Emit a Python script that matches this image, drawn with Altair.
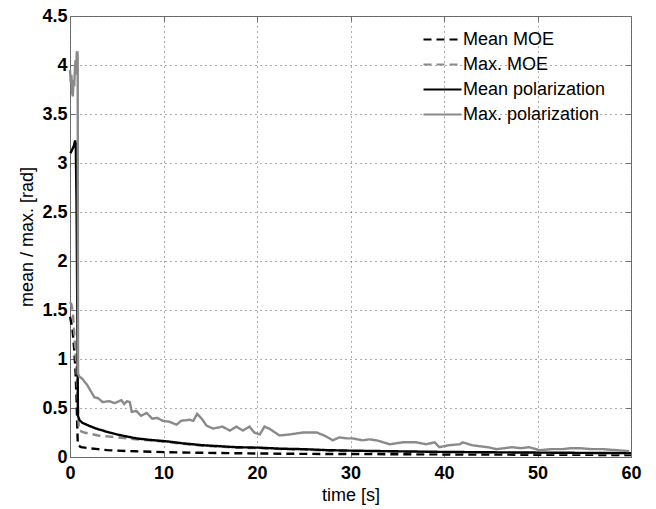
import altair as alt
import pandas as pd

series_names = ["Mean MOE", "Max. MOE", "Mean polarization", "Max. polarization"]

mean_moe_t = [0, 0.25, 0.45, 0.6, 0.7, 0.78, 0.84, 1.2, 2, 3, 4, 5, 7, 10, 14, 20, 25, 30, 40, 50, 60]
mean_moe_v = [1.43, 1.32, 1.1, 0.85, 0.6, 0.3, 0.12, 0.1, 0.09, 0.08, 0.07, 0.065, 0.058, 0.05, 0.043,
              0.036, 0.032, 0.03, 0.026, 0.023, 0.02]

max_moe_t = [0, 0.15, 0.3, 0.5, 0.7, 0.85, 0.95, 1.0, 1.5, 2, 3, 4, 5, 6, 7, 8.5, 10.3, 12, 14.2, 16,
             17.8, 20.3, 22.5, 25, 27.5, 30, 35, 40, 45, 50, 55, 60]
max_moe_v = [1.58, 1.56, 1.48, 1.2, 0.9, 0.5, 0.28, 0.27, 0.25, 0.24, 0.22, 0.21, 0.2, 0.19, 0.18,
             0.17, 0.155, 0.135, 0.115, 0.105, 0.095, 0.09, 0.08, 0.075, 0.065, 0.06, 0.053, 0.047,
             0.043, 0.04, 0.037, 0.035]

mean_pol_t = [0.05, 0.2, 0.4, 0.55, 0.62, 0.65, 0.7, 0.8, 0.85, 1.0, 1.3, 2, 2.8, 4.2, 5.5, 7.1, 8.5,
              10.3, 12, 14.2, 16, 17.8, 20.3, 22.5, 25, 27.5, 30, 35, 40, 45, 50, 55, 60]
mean_pol_v = [3.1, 3.13, 3.17, 3.23, 3.2, 2.95, 2.6, 1.2, 0.42, 0.38, 0.35, 0.32, 0.29, 0.25, 0.22,
              0.19, 0.175, 0.16, 0.14, 0.12, 0.11, 0.1, 0.095, 0.085, 0.08, 0.07, 0.065, 0.058, 0.052,
              0.048, 0.045, 0.042, 0.04]

max_pol_t = [0, 0.08, 0.15, 0.22, 0.3, 0.38, 0.45, 0.52, 0.6, 0.66, 0.72, 0.78, 0.82, 0.86, 1.0, 1.3,
             1.8, 2.3, 2.6, 3.0, 3.5, 4.2, 4.8, 5.5, 5.8, 6.1, 6.4, 6.6, 7.1, 7.6, 8.2, 8.8, 9.3, 9.9,
             10.6, 11.4, 11.9, 12.8, 13.2, 13.6, 14.1, 14.6, 15.3, 16.3, 17.1, 17.8, 18.5, 19.2, 19.7,
             20.3, 20.8, 21.3, 22.4, 23.5, 24.9, 25.6, 26.4, 27.4, 28.1, 28.8, 29.6, 30.2, 31.3, 32.0,
             32.8, 34.2, 35.6, 36.3, 37.0, 38.1, 39.0, 39.5, 40.5, 41.7, 42.0, 43.0, 43.8, 44.7, 45.6,
             46.5, 47.3, 48.2, 49.1, 50.2, 51.5, 52.7, 53.6, 54.5, 55.8, 57.0, 58.4, 59.8]
max_pol_v = [3.95, 3.82, 3.9, 3.72, 3.68, 3.85, 3.78, 3.95, 4.05, 3.9, 4.12, 4.14, 4.1, 0.85, 0.82,
             0.8, 0.74, 0.66, 0.61, 0.6, 0.56, 0.57, 0.55, 0.58, 0.54, 0.57, 0.56, 0.46, 0.47, 0.42,
             0.45, 0.39, 0.4, 0.37, 0.36, 0.33, 0.37, 0.38, 0.37, 0.44, 0.39, 0.32, 0.29, 0.31, 0.27,
             0.31, 0.27, 0.31, 0.25, 0.23, 0.31, 0.29, 0.22, 0.23, 0.25, 0.25, 0.25, 0.21, 0.17, 0.2,
             0.19, 0.19, 0.17, 0.18, 0.17, 0.13, 0.15, 0.15, 0.15, 0.13, 0.15, 0.1, 0.12, 0.13, 0.15,
             0.12, 0.11, 0.1, 0.08, 0.09, 0.1, 0.09, 0.1, 0.07, 0.08, 0.08, 0.09, 0.09, 0.08, 0.08,
             0.07, 0.06]

x_ticks = [0, 10, 20, 30, 40, 50, 60]
y_ticks = [0, 0.5, 1, 1.5, 2, 2.5, 3, 3.5, 4, 4.5]

rows = []
for name, ts, vs in zip(series_names,
                        [mean_moe_t, max_moe_t, mean_pol_t, max_pol_t],
                        [mean_moe_v, max_moe_v, mean_pol_v, max_pol_v]):
    for i, (t, v) in enumerate(zip(ts, vs)):
        rows.append({"series": name, "t": t, "v": v, "i": i})
df = pd.DataFrame(rows)

FONT = "Liberation Sans"
WEIGHT = "bold"
GRID = "#5a5a5a"
BOX = "#6e6e6e"

color_scale = alt.Scale(domain=series_names, range=["#000000", "#8a8a8a", "#000000", "#8a8a8a"])
dash_scale = alt.Scale(domain=series_names, range=[[8, 5], [8, 5], [1, 0], [1, 0]])

legend = alt.Legend(orient="none", legendX=361, legendY=12, title=None,
                    symbolType="M-1.9,0H1.9", symbolSize=400, symbolStrokeWidth=2.2,
                    labelFont=FONT, labelFontSize=18, labelColor="#000000",
                    labelFontWeight="normal",
                    labelOffset=9, rowPadding=4, padding=0, labelLimit=300)

x_main = alt.X("t:Q", scale=alt.Scale(domain=[0, 60], nice=False, zero=False),
               axis=alt.Axis(values=x_ticks, title="time [s]", orient="bottom", offset=-5,
                             tickSize=5, tickColor=BOX, domain=False, grid=True,
                             gridDash=[1, 4], gridColor=GRID, gridOpacity=1,
                             labelFont=FONT, labelFontSize=18, labelColor="#000000",
                             labelFontWeight=WEIGHT,
                             labelPadding=7, labelFlush=False,
                             titleFont=FONT, titleFontSize=18, titleFontWeight="normal",
                             titleColor="#000000", titlePadding=4))
y_main = alt.Y("v:Q", scale=alt.Scale(domain=[0, 4.5], nice=False),
               axis=alt.Axis(values=y_ticks, title="mean / max. [rad]", orient="left", offset=-5,
                             tickSize=5, tickColor=BOX, domain=False, grid=True,
                             gridDash=[1, 4], gridColor=GRID, gridOpacity=1,
                             labelFont=FONT, labelFontSize=18, labelColor="#000000",
                             labelFontWeight=WEIGHT,
                             labelPadding=3, labelFlush=False, labelExpr="'' + datum.value",
                             titleFont=FONT, titleFontSize=18, titleFontWeight="normal",
                             titleColor="#000000", titlePadding=5))

layers = []
for name in series_names:
    layers.append(
        alt.Chart(df).transform_filter(alt.datum.series == name).mark_line(strokeWidth=2.4).encode(
            x=x_main, y=y_main,
            color=alt.Color("series:N", scale=color_scale, legend=legend),
            strokeDash=alt.StrokeDash("series:N", scale=dash_scale, legend=legend),
            order="i:Q",
        )
    )
lines = alt.layer(*layers)

ticks = alt.Chart(df).mark_line(opacity=0).encode(
    x=alt.X("t:Q", axis=alt.Axis(values=x_ticks, orient="top", offset=-5, tickSize=5,
                                  tickColor=BOX, domain=False, grid=False, labels=False, title=None)),
    y=alt.Y("v:Q", axis=alt.Axis(values=y_ticks, orient="right", offset=-5, tickSize=5,
                                  tickColor=BOX, domain=False, grid=False, labels=False, title=None)),
    detail="series:N",
)

chart = alt.layer(lines, ticks).resolve_axis(x="independent", y="independent").properties(
    width=561, height=441,
    padding={"left": 70, "top": 16, "right": 25, "bottom": 52},
    autosize=alt.AutoSizeParams(type="none"),
    background="#ffffff",
).configure_view(stroke=BOX, strokeWidth=1)

chart.save("out.html", embed_options={"renderer": "svg", "actions": False})
